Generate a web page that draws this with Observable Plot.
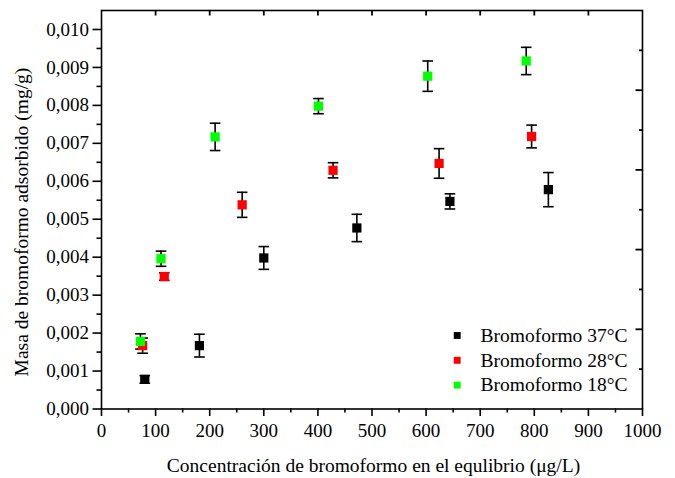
<!DOCTYPE html>
<html>
<head>
<meta charset="utf-8">
<script src="https://cdn.jsdelivr.net/npm/d3@7"></script>
<script src="https://cdn.jsdelivr.net/npm/@observablehq/plot@0.6"></script>
<style>
  html, body { margin: 0; padding: 0; background: #fff; }
  #chart svg { display: block; }
  #chart svg text { font-family: 'Liberation Serif', 'Times New Roman', serif; }
</style>
</head>
<body>
<div id="chart"></div>
<script>
// ---- Data ----
const seriesNames = ["Bromoformo 37°C", "Bromoformo 28°C", "Bromoformo 18°C"];
const seriesColors = ["#000000", "#ff0000", "#00ff00"];

const x37 = [80, 181, 300, 472, 644, 826];
const y37 = [0.00078, 0.00167, 0.00398, 0.00477, 0.00547, 0.00578];
const e37 = [0.0001, 0.0003, 0.0003, 0.00036, 0.0002, 0.00045];

const x28 = [76, 116, 260, 428, 624, 795];
const y28 = [0.00167, 0.00349, 0.00538, 0.00629, 0.00647, 0.00718];
const e28 = [0.0002, 0.0001, 0.00033, 0.0002, 0.00039, 0.0003];

const x18 = [72, 110, 210, 401, 603, 785];
const y18 = [0.00178, 0.00396, 0.00717, 0.00798, 0.00877, 0.00917];
const e18 = [0.0002, 0.0002, 0.00036, 0.0002, 0.0004, 0.00036];

const xMajorTicks = [0, 100, 200, 300, 400, 500, 600, 700, 800, 900, 1000];
const xMinorTicks = [50, 150, 250, 350, 450, 550, 650, 750, 850, 950];
const yMajorTicks = [0, 0.001, 0.002, 0.003, 0.004, 0.005, 0.006, 0.007, 0.008, 0.009, 0.010];
const yMinorTicks = [0.0005, 0.0015, 0.0025, 0.0035, 0.0045, 0.0055, 0.0065, 0.0075, 0.0085, 0.0095];
const rightMajorTicks = [0.0021, 0.0042, 0.0063, 0.0084];
const rightMinorTicks = [0.00105, 0.00315, 0.00525, 0.00735, 0.00945];

const xTitle = "Concentración de bromoformo en el equlibrio (μg/L)";
const yTitle = "Masa de bromoformo adsorbido (mg/g)";

// ---- Build table ----
const groups = [[x37, y37, e37], [x28, y28, e28], [x18, y18, e18]];
const data = [];
groups.forEach(([xs, ys, es], i) => {
  xs.forEach((x, j) => data.push({series: seriesNames[i], x, y: ys[j], err: es[j]}));
});

// ---- Custom symbols ----
const hCap = {draw(ctx, size) { const r = Math.sqrt(size / Math.PI); ctx.moveTo(-r, 0); ctx.lineTo(r, 0); }};
const tickDown = len => ({draw(ctx) { ctx.moveTo(0, 0); ctx.lineTo(0, len); }});
const tickLeft = len => ({draw(ctx) { ctx.moveTo(0, 0); ctx.lineTo(-len, 0); }});

const font = "'Liberation Serif', 'Times New Roman', 'DejaVu Serif', serif";
const fmtY = d => d.toFixed(3).replace(".", ",");

const legendMarks = [];
seriesNames.forEach((name, i) => {
  legendMarks.push(Plot.dot([name], {
    frameAnchor: "top-left", dx: 355.7, dy: 325 + 24.8 * i,
    symbol: "square", r: 3.9, fill: seriesColors[i], stroke: "none"
  }));
  legendMarks.push(Plot.text([name], {
    frameAnchor: "top-left", dx: 379, dy: 325 + 24.8 * i,
    text: d => d, textAnchor: "start", lineAnchor: "middle",
    fontSize: 19.5, fill: "#000", fontFamily: font
  }));
});

const chart = Plot.plot({
  width: 675,
  height: 478,
  marginLeft: 101,
  marginRight: 33,
  marginTop: 10,
  marginBottom: 69.5,
  style: {fontFamily: font, fontSize: "19px", color: "#000", background: "#fff"},
  x: {domain: [0, 1000]},
  y: {domain: [0, 0.0105]},
  color: {domain: seriesNames, range: seriesColors},
  marks: [
    // axes
    Plot.axisX({ticks: xMajorTicks, tickSize: 7.5, tickPadding: 7, tickFormat: d => String(d), label: null, strokeWidth: 1.6, fontSize: 19, fontFamily: font, fontVariant: "normal"}),
    Plot.axisX({ticks: xMinorTicks, tickSize: 4, text: null, label: null, strokeWidth: 1.6}),
    Plot.axisY({ticks: yMajorTicks, tickSize: 8.5, tickPadding: 4, tickFormat: fmtY, label: null, strokeWidth: 1.6, fontSize: 19, fontFamily: font, fontVariant: "normal"}),
    Plot.axisY({ticks: yMinorTicks, tickSize: 4.5, text: null, label: null, strokeWidth: 1.6}),
    // mirrored ticks on top and right
    Plot.dot(xMajorTicks.slice(1, -1), {x: d => d, frameAnchor: "top", symbol: tickDown(5), r: 1, stroke: "#000", strokeWidth: 1.8}),
    Plot.dot(rightMajorTicks, {y: d => d, frameAnchor: "right", symbol: tickLeft(7), r: 1, stroke: "#000", strokeWidth: 1.8}),
    Plot.dot(rightMinorTicks, {y: d => d, frameAnchor: "right", symbol: tickLeft(3.5), r: 1, stroke: "#000", strokeWidth: 1.8}),
    Plot.frame({stroke: "#000", strokeWidth: 1.6}),
    // axis titles
    Plot.text([xTitle], {frameAnchor: "bottom", dy: 49.5, lineAnchor: "top", textAnchor: "middle", text: d => d, fontSize: 19.5, fill: "#000", dx: 1.5, fontFamily: font}),
    Plot.text([yTitle], {frameAnchor: "left", dx: -79.3, dy: 12.3, rotate: -90, lineAnchor: "middle", textAnchor: "middle", text: d => d, fontSize: 19.5, fill: "#000", fontFamily: font}),
    // error bars
    Plot.ruleX(data, {x: "x", y1: d => d.y - d.err, y2: d => d.y + d.err, stroke: "#000", strokeWidth: 1.6}),
    Plot.dot(data, {x: "x", y: d => d.y + d.err, symbol: hCap, r: 5.3, stroke: "#000", strokeWidth: 1.6}),
    Plot.dot(data, {x: "x", y: d => d.y - d.err, symbol: hCap, r: 5.3, stroke: "#000", strokeWidth: 1.6}),
    // points
    Plot.dot(data, {x: "x", y: "y", symbol: "square", r: 5.2, fill: "series", stroke: "none"}),
    ...legendMarks
  ]
});

document.getElementById("chart").appendChild(chart);
</script>
</body>
</html>
